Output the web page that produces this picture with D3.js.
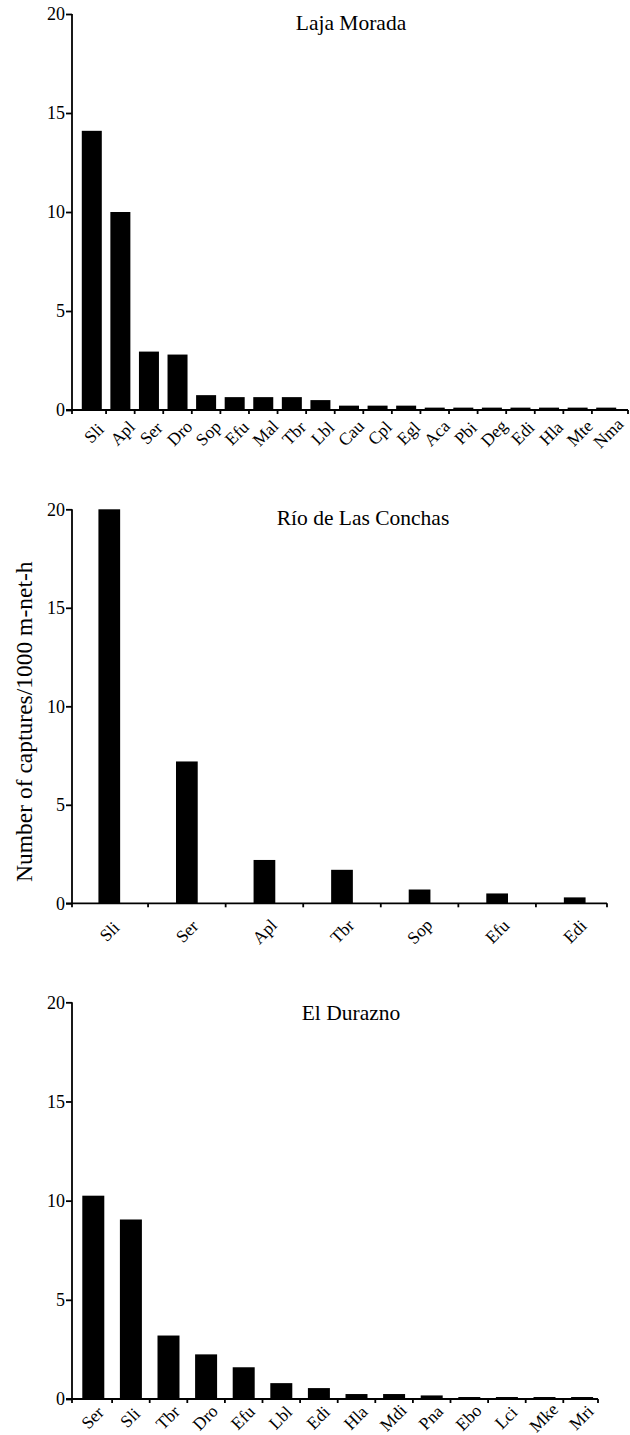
<!DOCTYPE html>
<html>
<head>
<meta charset="utf-8">
<script src="https://cdn.jsdelivr.net/npm/d3@7/dist/d3.min.js"></script>
<style>
  html, body { margin: 0; padding: 0; background: #fff; }
  svg { display: block; }
  text { font-family: "Liberation Serif", "Times New Roman", serif; fill: #000; }
</style>
</head>
<body>
<svg id="chart" width="630" height="1435"></svg>
<script>
// Capture rates (captures / 1000 m-net-h) per species at each site
const lajaSpecies = ["Sli","Apl","Ser","Dro","Sop","Efu","Mal","Tbr","Lbl","Cau","Cpl","Egl","Aca","Pbi","Deg","Edi","Hla","Mte","Nma"];
const lajaCaptures = [14.1, 10.0, 2.95, 2.8, 0.75, 0.65, 0.65, 0.65, 0.5, 0.22, 0.22, 0.22, 0.12, 0.12, 0.12, 0.12, 0.12, 0.12, 0.12];

const conchasSpecies = ["Sli","Ser","Apl","Tbr","Sop","Efu","Edi"];
const conchasCaptures = [20.0, 7.2, 2.2, 1.7, 0.7, 0.5, 0.3];

const duraznoSpecies = ["Ser","Sli","Tbr","Dro","Efu","Lbl","Edi","Hla","Mdi","Pna","Ebo","Lci","Mke","Mri"];
const duraznoCaptures = [10.25, 9.05, 3.2, 2.25, 1.6, 0.8, 0.55, 0.25, 0.25, 0.18, 0.1, 0.1, 0.1, 0.1];

const siteNames = ["Laja Morada", "Río de Las Conchas", "El Durazno"];
const yTickValues = [0, 5, 10, 15, 20];
const yAxisTitle = "Number of captures/1000 m-net-h";

const svg = d3.select("#chart");
const axisX = 72;

const panels = [
  { title: siteNames[0], cats: lajaSpecies, vals: lajaCaptures,
    top: 14, base: 410, band: [77.5, 620.5], pad: 0.3, axisEnd: 628,
    titleX: 351, titleY: 30, lblDx: 2, lblDy: 23 },
  { title: siteNames[1], cats: conchasSpecies, vals: conchasCaptures,
    top: 509.3, base: 903.3, band: [70.5, 613.5], pad: 0.72, axisEnd: 607,
    titleX: 363, titleY: 525, lblDx: 0, lblDy: 28 },
  { title: siteNames[2], cats: duraznoSpecies, vals: duraznoCaptures,
    top: 1002.3, base: 1399, band: [74.5, 600.9], pad: 0.415, axisEnd: 598,
    titleX: 351, titleY: 1020, lblDx: -1, lblDy: 18.5 }
];

panels.forEach(p => {
  const g = svg.append("g");
  const data = p.cats.map((c, i) => ({ cat: c, val: p.vals[i] }));

  const y = d3.scaleLinear().domain([0, 20]).range([p.base, p.top]);
  const x = d3.scaleBand().domain(p.cats).range(p.band)
    .paddingInner(p.pad).paddingOuter(p.pad / 2);

  // bars
  g.selectAll("rect.bar").data(data).join("rect")
    .attr("class", "bar")
    .attr("x", d => x(d.cat))
    .attr("width", x.bandwidth())
    .attr("y", d => y(d.val))
    .attr("height", d => y(0) - y(d.val))
    .attr("fill", "#000");

  // y axis
  const yAxis = g.append("g")
    .attr("transform", `translate(${axisX},0)`)
    .call(d3.axisLeft(y).tickValues(yTickValues).tickSize(6).tickPadding(1).tickSizeOuter(0));
  yAxis.select(".domain").remove();
  yAxis.selectAll(".tick line").attr("stroke", "#000").attr("stroke-width", 1.8);
  yAxis.selectAll(".tick text").attr("font-size", 18);
  g.append("line")
    .attr("x1", axisX).attr("x2", axisX)
    .attr("y1", y(20)).attr("y2", y(0) + 4)
    .attr("stroke", "#000").attr("stroke-width", 1.8);

  // x axis line
  g.append("line")
    .attr("x1", axisX - 6).attr("x2", p.axisEnd)
    .attr("y1", y(0)).attr("y2", y(0))
    .attr("stroke", "#000").attr("stroke-width", 1.8);

  // tick marks between categories and at the axis end
  const step = x.step();
  const bounds = p.cats.slice(1).map(c => x(c) - step * p.pad / 2);
  bounds.push(p.axisEnd);
  g.selectAll("line.xtick").data(bounds).join("line")
    .attr("class", "xtick")
    .attr("x1", d => d).attr("x2", d => d)
    .attr("y1", y(0)).attr("y2", y(0) + 4)
    .attr("stroke", "#000").attr("stroke-width", 1.8);

  // category labels, rotated
  const xAxis = g.append("g")
    .attr("transform", `translate(0,${y(0)})`)
    .call(d3.axisBottom(x).tickSize(0).tickSizeOuter(0));
  xAxis.select(".domain").remove();
  xAxis.selectAll(".tick text")
    .attr("font-size", 17.5)
    .attr("y", 0).attr("dy", "0.35em")
    .attr("text-anchor", "middle")
    .attr("transform", `translate(${p.lblDx},${p.lblDy}) rotate(-45)`);

  // site name
  g.append("text")
    .attr("x", p.titleX).attr("y", p.titleY)
    .attr("text-anchor", "middle")
    .attr("font-size", 21.5)
    .text(p.title);
});

// shared y-axis title
svg.append("text")
  .attr("transform", "translate(32,721.7) rotate(-90)")
  .attr("text-anchor", "middle")
  .attr("font-size", 23.5)
  .text(yAxisTitle);
</script>
</body>
</html>
